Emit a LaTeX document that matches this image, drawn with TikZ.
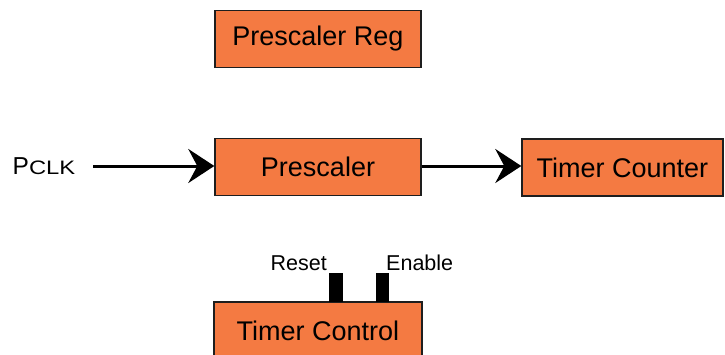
\documentclass[tikz,border=0pt]{standalone}
\usepackage{fontspec}
\setmainfont{Liberation Sans}
\usetikzlibrary{arrows.meta}
\definecolor{boxorange}{HTML}{F47A42}
\definecolor{boxline}{HTML}{1E1E1E}
\begin{document}
\begin{tikzpicture}[x=1pt,y=-1pt,
  block/.style={draw=boxline,line width=1.4pt,fill=boxorange,inner sep=0pt,
    minimum height=57pt,font=\fontsize{27}{30}\selectfont},
  sig/.style={line width=3pt,-{Stealth[length=26pt,width=34pt,inset=9pt]}},
  tab/.style={fill=black,draw=none,inner sep=0pt,minimum width=13.5pt,minimum height=29pt},
  lbl/.style={inner sep=0pt,font=\fontsize{21.5}{24}\selectfont}]
\useasboundingbox (0,0) rectangle (725,354);
\begin{scope}
\clip (0,0) rectangle (725,354);
\node[block,minimum width=206pt] (reg) at (318,39) {Prescaler Reg};
\node[block,minimum width=206pt] (pre) at (318,167) {Prescaler};
\node[block,minimum width=201pt] (cnt) at (622.5,167.5) {Timer Counter};
\node[block,minimum width=208pt] (ctl) at (318,330.5) {Timer Control};
\end{scope}
\node[inner sep=0pt,anchor=base west] (pclk) at (12.5,174)
  {\fontsize{24.5}{26}\selectfont P\fontsize{19.5}{22}\selectfont\scalebox{1.22}[1]{CLK}};
\coordinate (src) at (93,166);
\draw[sig] (src) -- (pre.west |- src);
\draw[sig] (pre.east |- src) -- (cnt.west |- src);
\node[tab] (rst) at (336,287.5) {};
\node[tab] (enb) at (382.5,287.5) {};
\node[lbl,anchor=base east] (rstl) at (327,270) {Reset};
\node[lbl,anchor=base west] (enbl) at (386,270) {Enable};
\end{tikzpicture}
\end{document}
